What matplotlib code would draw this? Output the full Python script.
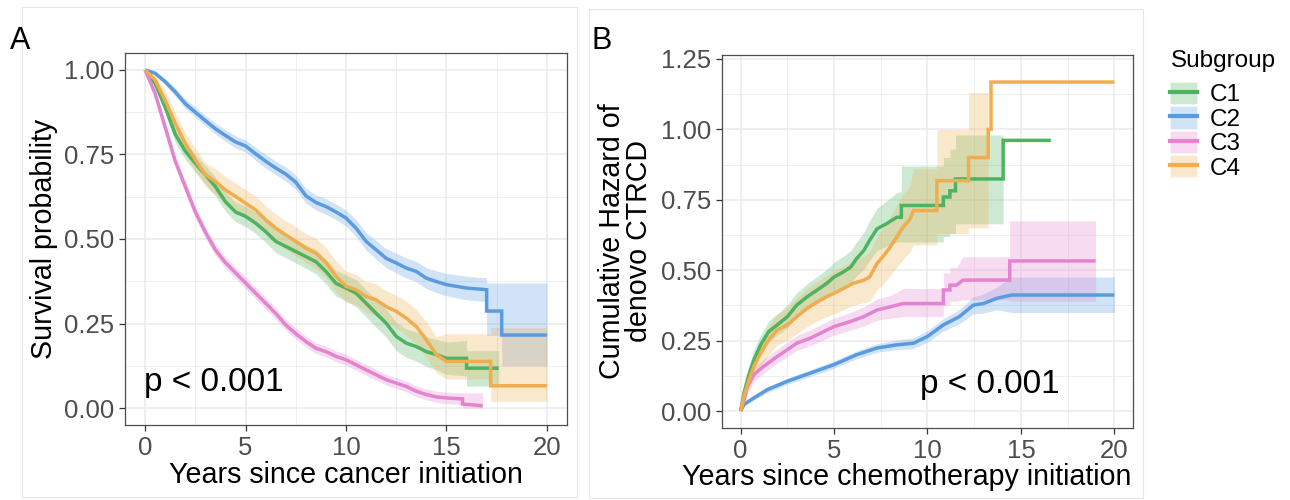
import numpy as np
import matplotlib.pyplot as plt
from matplotlib.patches import Patch, Rectangle
from matplotlib.lines import Line2D
from matplotlib.ticker import MultipleLocator, FormatStrFormatter

plt.rcParams['font.family'] = ['Liberation Sans', 'DejaVu Sans']

groups = ["C1", "C2", "C3", "C4"]
colors = ["#4DB360", "#5A9BE0", "#E483CF", "#F0AD4E"]
nan = np.nan

# ======= PANEL A: survival =======
a_c1_t = [0, .5, 1, 1.5, 2, 2.5, 3, 3.5, 4, 4.5, 5, 5.5, 6, 6.5, 7, 7.5, 8, 8.5, 9, 9.5,
          10, 10.5, 11, 11.5, 12, 12.5, 13, 13.5, 14, 14.5, 15, 16, 16, 17.6]
a_c1_s = [1, .96, .89, .81, .76, .724, .69, .655, .61, .58, .567, .547, .522, .493, .478, .463, .448, .433, .404, .369,
          .355, .34, .31, .28, .251, .212, .192, .182, .167, .158, .147, .147, .118, .118]
a_c1_lo = [1, .945, .87, .785, .735, .698, .663, .627, .582, .551, .537, .516, .49, .46, .445, .429, .413, .397, .367, .331,
           .316, .30, .27, .239, .21, .17, .15, .139, .123, .113, .1, .095, .065, .065]
a_c1_hi = [1, .975, .91, .835, .785, .75, .717, .683, .638, .609, .597, .578, .554, .526, .511, .497, .483, .469, .441, .407,
           .394, .38, .35, .321, .292, .254, .234, .225, .211, .203, .195, .2, .17, .17]

a_c2_t = [0, .5, 1, 1.5, 2, 2.5, 3, 3.5, 4, 4.5, 5, 5.5, 6, 6.5, 7, 7.5, 8, 8.5, 9, 9.5,
          10, 10.5, 11, 11.5, 12, 12.5, 13, 13.5, 14, 14.5, 15, 16, 17, 17, 17.75, 17.75, 20]
a_c2_s = [1, .99, .965, .935, .9, .875, .85, .826, .806, .787, .775, .752, .73, .71, .692, .668, .628, .608, .596, .58,
          .562, .532, .493, .468, .443, .429, .414, .404, .384, .374, .365, .355, .35, .287, .287, .216, .216]
a_c2_lo = [1, .984, .955, .923, .886, .86, .835, .81, .789, .769, .757, .733, .71, .69, .671, .647, .606, .586, .573, .557,
           .538, .507, .467, .441, .415, .4, .384, .374, .353, .342, .332, .32, .315, .215, .215, .125, .125]
a_c2_hi = [1, .996, .975, .947, .914, .89, .865, .842, .823, .805, .793, .771, .75, .73, .713, .689, .65, .63, .619, .603,
           .586, .557, .519, .495, .471, .458, .444, .434, .415, .406, .398, .39, .385, .37, .37, .37, .37]

a_c3_t = [0, .25, .5, 1, 1.5, 2, 2.5, 3, 3.5, 4, 4.5, 5, 5.5, 6, 6.5, 7, 7.5, 8, 8.5, 9,
          9.5, 10, 11, 12, 12.5, 13, 13.5, 14, 14.5, 15, 15.8, 15.8, 16.8]
a_c3_s = [1, .965, .93, .83, .73, .655, .58, .52, .468, .43, .40, .37, .34, .31, .28, .246, .22, .197, .177, .167,
          .153, .143, .113, .084, .074, .064, .05, .04, .033, .03, .027, .012, .007]
a_c3_lo = [1, .955, .918, .815, .714, .638, .563, .503, .451, .413, .383, .353, .323, .293, .263, .23, .204, .181, .161, .151,
           .137, .127, .097, .068, .058, .048, .034, .024, .017, .013, .01, 0, 0]
a_c3_hi = [1, .975, .942, .845, .746, .672, .597, .537, .485, .447, .417, .387, .357, .327, .297, .262, .236, .213, .193, .183,
           .169, .159, .129, .1, .09, .08, .066, .056, .05, .047, .045, .045, .045]

a_c4_t = [0, .5, 1, 1.5, 2, 2.5, 3, 3.5, 4, 4.5, 5, 5.5, 6, 6.5, 7, 7.5, 8, 8.5, 9, 9.5,
          10, 10.5, 11, 11.5, 12, 12.5, 13, 13.5, 14, 14.5, 15, 17.2, 17.2, 20]
a_c4_s = [1, .97, .91, .842, .783, .734, .69, .67, .645, .626, .606, .586, .557, .532, .512, .493, .473, .458, .43, .39,
          .36, .35, .33, .32, .30, .286, .266, .241, .202, .158, .138, .138, .066, .066]
a_c4_lo = [1, .955, .88, .81, .75, .7, .655, .632, .605, .586, .566, .545, .516, .49, .47, .45, .43, .414, .385, .345,
           .315, .305, .285, .273, .253, .238, .216, .19, .15, .105, .086, .086, .02, .02]
a_c4_hi = [1, .985, .94, .874, .816, .768, .725, .708, .685, .666, .646, .627, .598, .574, .554, .536, .516, .502, .475, .435,
           .405, .395, .375, .367, .347, .334, .316, .292, .254, .211, .22, .22, .238, .238]

# ======= PANEL B: cumulative hazard =======
b_c1_t = [0, .18, .44, .71, 1.07, 1.5, 1.96, 2.5, 3.0, 3.56, 4.1, 4.6, 5.0, 5.5, 5.9, 6.2, 6.6, 6.9, 7.3, 7.8,
          8.35, 8.6, 8.6, 10.85, 10.85, 11.2, 11.2, 11.5, 11.5, 14.05, 14.05, 16.6]
b_c1_h = [0, .065, .13, .182, .235, .282, .306, .335, .376, .406, .43, .453, .476, .494, .512, .541, .571, .606, .647, .665,
          .688, .688, .73, .73, .76, .76, .782, .782, .824, .824, .961, .961]
b_c1_lo = [0, .04, .1, .15, .2, .245, .27, .295, .335, .36, .382, .403, .424, .44, .455, .48, .505, .535, .57, .585,
           .6, .6, .6, .6, .62, .62, .63, .63, .665, .665, nan, nan]
b_c1_hi = [0, .09, .16, .22, .27, .32, .345, .378, .42, .452, .478, .503, .528, .55, .57, .6, .635, .675, .72, .745,
           .775, .78, .87, .87, .9, .9, .93, .93, .98, .98, nan, nan]

b_c2_t = [0, .18, .71, 1.42, 2.5, 3.73, 5.0, 6.2, 7.3, 8.35, 9.25, 10.0, 10.85, 11.7, 12.45, 13.0, 13.7, 14.5, 20]
b_c2_h = [0, .024, .047, .076, .106, .135, .165, .20, .224, .235, .241, .265, .306, .335, .376, .382, .40, .412, .412]
b_c2_lo = [0, .018, .039, .066, .095, .123, .152, .186, .209, .218, .222, .245, .284, .31, .345, .348, .36, .35, .35]
b_c2_hi = [0, .03, .055, .086, .117, .147, .178, .214, .239, .252, .26, .285, .328, .36, .405, .416, .44, .476, .476]

b_c3_t = [0, .18, .36, .71, 1.24, 1.96, 2.5, 3.0, 3.73, 4.44, 5.0, 5.87, 6.58, 7.3, 8.0, 8.7,
          10.85, 10.85, 11.2, 11.2, 11.55, 11.9, 14.4, 14.4, 19.0]
b_c3_h = [0, .041, .088, .13, .159, .194, .218, .241, .259, .282, .30, .318, .335, .359, .37, .382,
          .382, .43, .43, .447, .447, .465, .465, .533, .533]
b_c3_lo = [0, .025, .065, .105, .135, .17, .193, .215, .232, .253, .27, .287, .302, .322, .33, .335,
           .335, .375, .375, .39, .39, .395, .395, .39, .39]
b_c3_hi = [0, .06, .11, .155, .185, .22, .245, .268, .288, .312, .33, .35, .37, .398, .41, .435,
           .435, .49, .49, .51, .51, .548, .548, .675, .675]

b_c4_t = [0, .18, .44, .71, 1.07, 1.5, 1.96, 2.5, 3.0, 3.56, 4.1, 4.6, 5.0, 5.5, 6.0, 6.6, 6.9, 7.3, 7.6, 8.0,
          8.35, 8.7, 9.07, 9.25, 10.5, 10.5, 12.2, 12.2, 13.25, 13.25, 13.4, 13.4, 20]
b_c4_h = [0, .053, .11, .159, .206, .253, .288, .306, .335, .365, .388, .406, .418, .435, .453, .465, .476, .524, .547, .582,
          .618, .653, .682, .712, .712, .818, .818, .9, .9, 1.0, 1.0, 1.168, 1.168]
b_c4_lo = [0, .03, .08, .12, .16, .2, .235, .25, .275, .3, .32, .335, .345, .36, .375, .385, .39, .43, .45, .48,
           .51, .54, .565, .59, .59, .63, .63, .65, .65, nan, nan, nan, nan]
b_c4_hi = [0, .08, .14, .2, .25, .3, .345, .365, .4, .435, .46, .48, .495, .515, .535, .55, .565, .62, .65, .69,
           .73, .77, .8, .86, .86, 1.0, 1.0, 1.13, 1.13, nan, nan, nan, nan]

panel_a = [(a_c1_t, a_c1_s, a_c1_lo, a_c1_hi), (a_c2_t, a_c2_s, a_c2_lo, a_c2_hi),
           (a_c3_t, a_c3_s, a_c3_lo, a_c3_hi), (a_c4_t, a_c4_s, a_c4_lo, a_c4_hi)]
panel_b = [(b_c1_t, b_c1_h, b_c1_lo, b_c1_hi), (b_c2_t, b_c2_h, b_c2_lo, b_c2_hi),
           (b_c3_t, b_c3_h, b_c3_lo, b_c3_hi), (b_c4_t, b_c4_h, b_c4_lo, b_c4_hi)]

LW = 2.5
ALPHA = 0.28


def draw(ax, data):
    for (t, y, lo, hi), c in zip(data, colors):
        ax.fill_between(t, lo, hi, color=c, alpha=ALPHA, lw=0)
    for (t, y, lo, hi), c in zip(data, colors):
        ax.plot(t, y, color=c, lw=LW, solid_capstyle='butt', solid_joinstyle='miter')


def style(ax, ylim):
    ax.set_xlim(-1, 21)
    ax.set_ylim(*ylim)
    ax.xaxis.set_major_locator(MultipleLocator(5))
    ax.xaxis.set_minor_locator(MultipleLocator(2.5))
    ax.yaxis.set_major_locator(MultipleLocator(0.25))
    ax.yaxis.set_minor_locator(MultipleLocator(0.125))
    ax.yaxis.set_major_formatter(FormatStrFormatter('%.2f'))
    ax.set_axisbelow(True)
    ax.grid(which='major', color='#EBEBEB', lw=1.1)
    ax.grid(which='minor', color='#EBEBEB', lw=0.55)
    ax.tick_params(which='minor', length=0)
    ax.tick_params(which='major', length=4.3, width=0.9, color='#333333',
                   labelsize=18.5, labelcolor='#4D4D4D', pad=3.5)
    for sp in ax.spines.values():
        sp.set_color('#4D4D4D')
        sp.set_linewidth(0.9)


fig = plt.figure(figsize=(12.9, 5.0), dpi=100)

# thin panel frames
fig.add_artist(Rectangle((22 / 1290, 3 / 500), 555 / 1290, 490 / 500, transform=fig.transFigure,
                         fill=False, ec='#E6E6E6', lw=0.8))
fig.add_artist(Rectangle((589 / 1290, 2 / 500), 554 / 1290, 489 / 500, transform=fig.transFigure,
                         fill=False, ec='#E6E6E6', lw=0.8))

axA = fig.add_axes([125 / 1290, 75 / 500, 442 / 1290, 372 / 500])
draw(axA, panel_a)
style(axA, (-0.05, 1.05))
axA.set_xlabel("Years since cancer initiation", fontsize=20.6, va='baseline')
axA.xaxis.set_label_coords(0.5, -0.156)
axA.set_ylabel("Survival probability", fontsize=20.6, labelpad=4)
axA.text(-0.05, 0.05, "p < 0.001", fontsize=24, ha='left', va='baseline')

axB = fig.add_axes([722 / 1290, 72 / 500, 411 / 1290, 373 / 500])
draw(axB, panel_b)
style(axB, (-0.06, 1.264))
axB.set_xlabel("Years since chemotherapy initiation", fontsize=20.6, va='baseline')
axB.xaxis.set_label_coords(0.45, -0.153)
axB.set_ylabel("Cumulative Hazard of\ndenovo CTRCD", fontsize=20.6, labelpad=6, linespacing=0.95)
axB.text(9.6, 0.064, "p < 0.001", fontsize=24, ha='left', va='baseline')

fig.text(10 / 1290, 1 - 49 / 500, "A", fontsize=22, ha='left', va='baseline')
fig.text(592 / 1290, 1 - 49 / 500, "B", fontsize=22, ha='left', va='baseline')

# legend
fig.text(1171 / 1290, 1 - 67 / 500, "Subgroup", fontsize=17.5, ha='left', va='baseline')
handles = [(Patch(facecolor=c, alpha=ALPHA, edgecolor='white', lw=0.8), Line2D([], [], color=c, lw=3))
           for c in colors]
fig.legend(handles, groups, loc='upper left',
           bbox_to_anchor=(1170 / 1290, 1 - 82 / 500), frameon=False,
           fontsize=17.5, handlelength=1.1, handleheight=1.03,
           labelspacing=0.0, handletextpad=0.55, borderaxespad=0, borderpad=0)

plt.savefig("out.png", dpi=100)
